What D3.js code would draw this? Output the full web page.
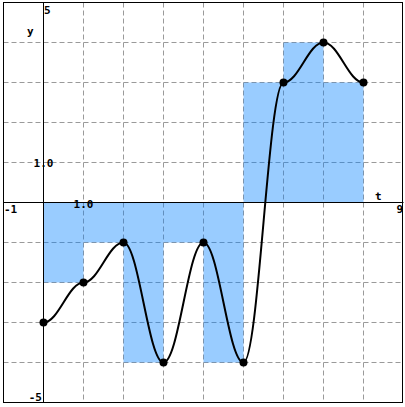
<!DOCTYPE html>
<html><head><meta charset="utf-8">
<script src="https://cdn.jsdelivr.net/npm/d3@7"></script>
<style>body{margin:0;background:#fff}svg{display:block}text{font-family:"DejaVu Sans Mono",monospace;font-weight:bold;font-size:11px;fill:#000}</style>
</head><body>
<svg id="c" width="405" height="407"></svg>
<script>
const xs = [0,1,2,3,4,5,6,7,8];
const ys = [-3,-2,-1,-4,-1,-4,3,4,3];
const xDomain = [-1,9];
const yDomain = [-5,5];
const gridX = [0,1,2,3,4,5,6,7,8];
const gridY = [-4,-3,-2,-1,0,1,2,3,4];

const svg = d3.select("#c");
const x = d3.scaleLinear().domain(xDomain).range([3.5,403.5]);
const y = d3.scaleLinear().domain(yDomain).range([402.5,2.5]);

// grid
const g = svg.append("g").attr("stroke","#9a9a9a").attr("stroke-dasharray","5,3").attr("stroke-width",1);
gridX.forEach(v=>g.append("line").attr("x1",x(v)).attr("x2",x(v)).attr("y1",y(5)).attr("y2",y(-5)));
gridY.forEach(v=>g.append("line").attr("y1",y(v)).attr("y2",y(v)).attr("x1",x(-1)).attr("x2",x(9)));

// step bars (step-before)
const bars = xs.slice(1).map((xv,i)=>({x0:xs[i],x1:xv,v:ys[i+1]}));
svg.append("g").selectAll("rect").data(bars).join("rect")
  .attr("x",d=>x(d.x0)).attr("width",d=>x(d.x1)-x(d.x0))
  .attr("y",d=>Math.min(y(d.v),y(0))).attr("height",d=>Math.abs(y(d.v)-y(0)))
  .attr("fill","rgb(0,128,255)").attr("fill-opacity",0.4);

// axes
svg.append("line").attr("x1",x(-1)).attr("x2",x(9)).attr("y1",y(0)).attr("y2",y(0)).attr("stroke","#000");
svg.append("line").attr("x1",x(0)).attr("x2",x(0)).attr("y1",y(5)).attr("y2",y(-5)).attr("stroke","#000");
svg.append("rect").attr("x",3.5).attr("y",2.5).attr("width",399).attr("height",400).attr("fill","none").attr("stroke","#000");

// curve: cubic with horizontal tangents at knots
const pts = xs.map((v,i)=>[x(v),y(ys[i])]);
const p = d3.path();
p.moveTo(pts[0][0],pts[0][1]);
for(let i=1;i<pts.length;i++){
  const [x0,y0]=pts[i-1],[x1,y1]=pts[i];
  const h=(x1-x0)*0.38;
  p.bezierCurveTo(x0+h,y0,x1-h,y1,x1,y1);
}
svg.append("path").attr("d",p.toString()).attr("fill","none").attr("stroke","#000").attr("stroke-width",2);
svg.append("g").selectAll("circle").data(pts).join("circle")
  .attr("cx",d=>d[0]).attr("cy",d=>d[1]).attr("r",4).attr("fill","#000");

// labels
svg.append("text").attr("x",44).attr("y",14).text("5");
svg.append("text").attr("x",42).attr("y",401).attr("text-anchor","end").text("-5");
svg.append("text").attr("x",27).attr("y",35).text("y");
svg.append("text").attr("x",x(0)).attr("y",y(1)+4).attr("text-anchor","middle").text("1.0");
svg.append("text").attr("x",4).attr("y",213).text("-1");
svg.append("text").attr("x",403).attr("y",213).attr("text-anchor","end").text("9");
svg.append("text").attr("x",x(1)).attr("y",y(0)+5).attr("text-anchor","middle").text("1.0");
svg.append("text").attr("x",375).attr("y",200).text("t");
</script>
</body></html>
